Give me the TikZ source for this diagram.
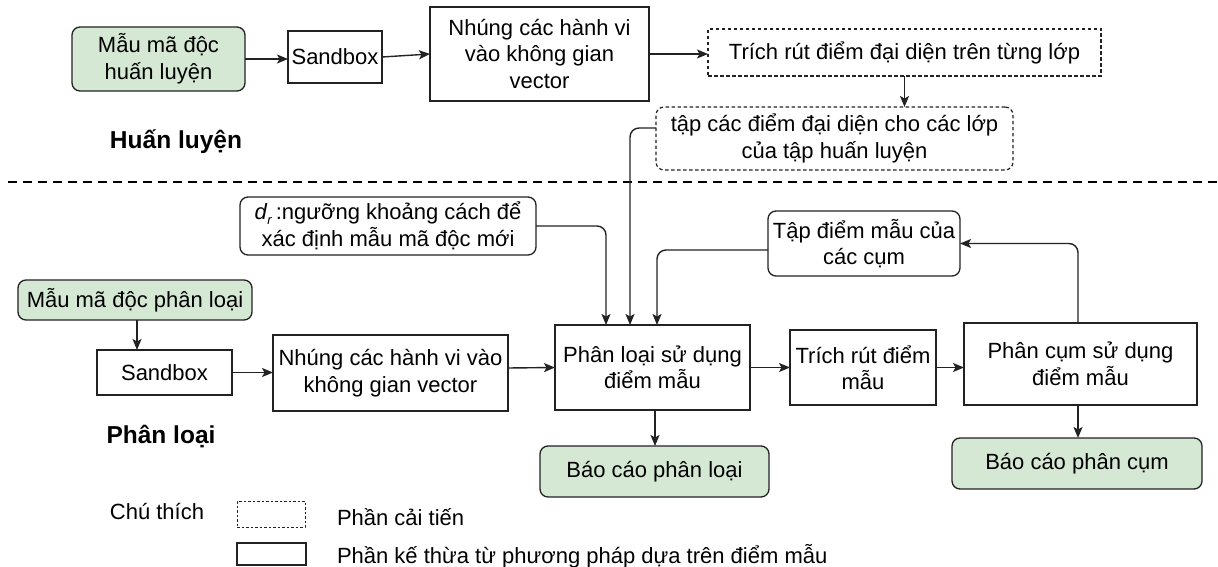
\documentclass[tikz,border=0pt]{standalone}
\usepackage{fontspec}
\setmainfont{Liberation Sans}
\usetikzlibrary{arrows.meta}
\definecolor{leaf}{HTML}{D5E8D4}
\definecolor{edge}{HTML}{222222}
\begin{document}
\begin{tikzpicture}[x=1pt,y=-1pt,
  every node/.style={inner sep=0pt, outer sep=0pt},
  txt/.style={font=\fontsize{22}{26.5}\selectfont, align=center},
  procbox/.style={txt, draw=edge, line width=1.3pt, fill=white},
  roundbox/.style={procbox, rounded corners=8pt},
  greenbox/.style={roundbox, fill=leaf},
  newbox/.style={txt, draw=edge, line width=1.2pt, dash pattern=on 3.5pt off 2.5pt},
  arr/.style={draw=edge, line width=1.4pt, -{Stealth[length=11pt,width=9pt,inset=2.5pt]}},
  title/.style={font=\fontsize{24.5}{28}\selectfont\bfseries},
  legend/.style={font=\fontsize{22}{26}\selectfont}
]
\useasboundingbox (0,0) rectangle (1218,567);

% training stage
\node[greenbox, minimum width=173pt, minimum height=64pt] (trainIn) at (158.5,59) {Mẫu mã độc\\huấn luyện};
\node[procbox, minimum width=94pt, minimum height=52pt] (sb1) at (335,57) {Sandbox};
\node[procbox, minimum width=219pt, minimum height=94pt] (emb1) at (539.5,54) {Nhúng các hành vi\\vào không gian\\vector};
\node[newbox, minimum width=393pt, minimum height=47pt] (extr1) at (904.5,52.5) {Trích rút điểm đại diện trên từng lớp};
\node[newbox, rounded corners=8pt, minimum width=357pt, minimum height=63pt] (reps) at (834.5,138.5) {tập các điểm đại diện cho các lớp\\của tập huấn luyện};
\node[title] (trainLbl) at (176,142) {Huấn luyện};

% stage separator
\draw[line width=2.6pt, dash pattern=on 9pt off 6pt] (8,182) -- (1218,182);

% classification stage
\node[roundbox, minimum width=296pt, minimum height=58pt] (dr) at (388,226)
  {\textit{d}\raisebox{-0.35ex}{\fontsize{13}{13}\selectfont\textit{r}}\,:ngưỡng khoảng cách để\\xác định mẫu mã độc mới};
\node[greenbox, minimum width=234pt, minimum height=40pt] (clsIn) at (135,300) {Mẫu mã độc phân loại};
\node[procbox, minimum width=135pt, minimum height=45pt] (sb2) at (164.5,372.5) {Sandbox};
\node[procbox, minimum width=235pt, minimum height=76pt] (emb2) at (390.5,373) {Nhúng các hành vi vào\\không gian vector};
\node[procbox, minimum width=195pt, minimum height=85pt] (cls) at (652.5,367.5) {Phân loại sử dụng\\điểm mẫu};
\node[procbox, minimum width=146pt, minimum height=75pt] (extr2) at (863,367.5) {Trích rút điểm\\mẫu};
\node[procbox, minimum width=233pt, minimum height=82pt] (clu) at (1080.5,364) {Phân cụm sử dụng\\điểm mẫu};
\node[roundbox, minimum width=192pt, minimum height=65pt] (cset) at (864,243.5) {Tập điểm mẫu của\\các cụm};
\node[greenbox, minimum width=229pt, minimum height=51pt] (rep1) at (654.5,471.5) {Báo cáo phân loại};
\node[greenbox, minimum width=250pt, minimum height=51pt] (rep2) at (1077,463.5) {Báo cáo phân cụm};
\node[title] (clsLbl) at (161,437) {Phân loại};

% legend
\node[legend] (legTitle) at (157,512) {Chú thích};
\node[draw=edge, line width=1pt, dash pattern=on 2.5pt off 2pt, minimum width=68pt, minimum height=26pt] (legNew) at (271,514) {};
\node[legend, anchor=west] (legNewTxt) at (337,517) {Phần cải tiến};
\node[draw=edge, line width=1.3pt, minimum width=69pt, minimum height=22pt] (legOld) at (271.5,554) {};
\node[legend, anchor=west] (legOldTxt) at (337,556) {Phần kế thừa từ phương pháp dựa trên điểm mẫu};

% training connectors
\draw[arr] (trainIn.east) -- (sb1.west |- trainIn.east);
\draw[arr] (sb1.east) -- (emb1.west);
\draw[arr] (emb1.east) -- (extr1.west |- emb1.east);
\draw[arr] (extr1.south) -- (extr1.south |- reps.north);

% classification connectors
\draw[arr, rounded corners=9pt] ([yshift=10.5pt]reps.west) -| ([xshift=-22.5pt]cls.north);
\draw[arr, rounded corners=9pt] (dr.east) -| ([xshift=-46.5pt]cls.north);
\draw[arr, rounded corners=9pt] ([yshift=-6.5pt]cset.west) -| ([xshift=4.5pt]cls.north);
\draw[arr, rounded corners=9pt] ([xshift=-2.5pt]clu.north) |- (cset.east);
\draw[arr] ([xshift=2pt]clsIn.south) -- ([xshift=2pt]clsIn.south |- sb2.north);
\draw[arr] (sb2.east) -- (emb2.west |- sb2.east);
\draw[arr] ([yshift=5pt]emb2.east) -- (cls.west);
\draw[arr] (cls.east) -- (extr2.west);
\draw[arr] (extr2.east) -- (clu.west |- extr2.east);
\draw[arr] ([xshift=2.5pt]cls.south) -- ([xshift=2.5pt]cls.south |- rep1.north);
\draw[arr] ([xshift=-2.5pt]clu.south) -- ([xshift=-2.5pt]clu.south |- rep2.north);
\end{tikzpicture}
\end{document}
